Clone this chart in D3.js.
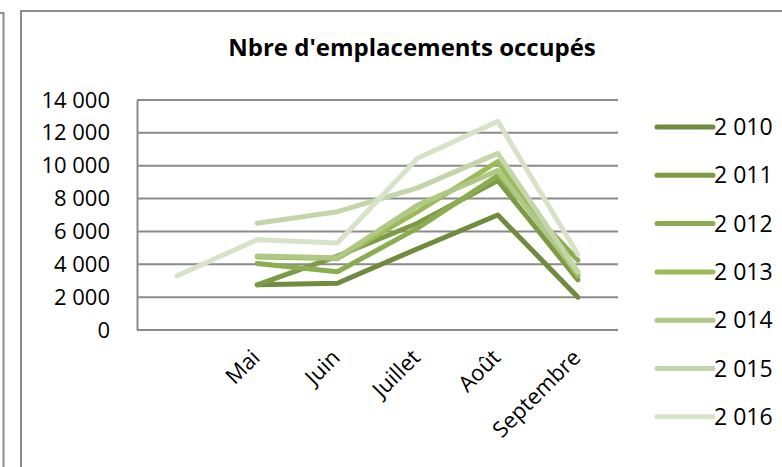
<!DOCTYPE html>
<html>
<head>
<meta charset="utf-8">
<script src="https://cdn.jsdelivr.net/npm/d3@7"></script>
<style>
  body { margin: 0; background: #fff; }
  svg { display: block; font-family: "Open Sans", sans-serif; }
</style>
</head>
<body>
<div id="chart"></div>
<script>
// categories (the first one has no label in the source)
const months = ["", "Mai", "Juin", "Juillet", "Août", "Septembre"];
const years = ["2 010", "2 011", "2 012", "2 013", "2 014", "2 015", "2 016"];
const yTicks = [0, 2000, 4000, 6000, 8000, 10000, 12000, 14000];

const v2010 = [null, 2750, 2850, 4950, 7000, 2000];
const v2011 = [null, 2750, 4500, 6500, 9100, 3050];
const v2012 = [null, 4050, 3550, 6200, 9400, 4250];
const v2013 = [null, 4450, 4350, 7200, 10250, 3300];
const v2014 = [null, 4500, 4400, 7600, 9700, 3450];
const v2015 = [null, 6500, 7200, 8650, 10750, 3550];
const v2016 = [3300, 5500, 5300, 10450, 12700, 4600];

const colors = ["#6f8b3d", "#7d9b45", "#8cad4f", "#9bbb59", "#afc885", "#c4d6a9", "#d7e3c6"];

const series = [v2010, v2011, v2012, v2013, v2014, v2015, v2016].map((vals, i) => ({
  name: years[i],
  color: colors[i],
  values: vals.map((v, j) => ({month: months[j], value: v}))
}));

const width = 782, height = 467;
const marginLeft = 137, marginRight = 164, marginTop = 100, marginBottom = 137;

const svg = d3.select("#chart").append("svg")
    .attr("width", width)
    .attr("height", height);

// chart frames (neighbour chart edge on the left + this chart's border)
svg.append("path")
    .attr("d", "M0,13H3.5V" + (height + 5))
    .attr("fill", "none")
    .attr("stroke", "#8c8c8c")
    .attr("stroke-width", 2);
svg.append("rect")
    .attr("x", 21).attr("y", 11)
    .attr("width", width + 20).attr("height", height + 20)
    .attr("fill", "none")
    .attr("stroke", "#8c8c8c")
    .attr("stroke-width", 2);

const x = d3.scaleBand()
    .domain(d3.range(months.length))
    .range([marginLeft, width - marginRight]);

const y = d3.scaleLinear()
    .domain([0, 14000])
    .range([height - marginBottom, marginTop]);

const fmt = v => d3.format(",")(v).replace(/,/g, " ");

// grid lines
svg.append("g")
  .selectAll("line")
  .data(yTicks)
  .join("line")
    .attr("x1", marginLeft)
    .attr("x2", width - marginRight)
    .attr("y1", d => y(d))
    .attr("y2", d => y(d))
    .attr("stroke", "#8a8a8a")
    .attr("stroke-width", 2);

// vertical axis
svg.append("g")
    .attr("transform", `translate(${marginLeft},0)`)
    .call(d3.axisLeft(y).tickValues(yTicks).tickFormat(fmt).tickSize(0).tickPadding(27))
    .call(g => g.select(".domain").attr("stroke", "#8a8a8a").attr("stroke-width", 2))
    .call(g => g.selectAll("text")
        .attr("font-family", "Open Sans, sans-serif")
        .attr("font-size", 22)
        .attr("fill", "#000"));

// horizontal axis labels, rotated
svg.append("g")
  .selectAll("text")
  .data(months)
  .join("text")
    .attr("transform", (d, i) => `translate(${x(i) + x.bandwidth() / 2 + 4},${height - marginBottom + 29}) rotate(-45)`)
    .attr("text-anchor", "end")
    .attr("font-size", 22)
    .attr("fill", "#000")
    .text(d => d);

// lines
const line = d3.line()
    .defined(d => d.value != null)
    .x(d => x(months.indexOf(d.month)) + x.bandwidth() / 2)
    .y(d => y(d.value));

svg.append("g")
    .attr("fill", "none")
  .selectAll("path")
  .data(series)
  .join("path")
    .attr("stroke", d => d.color)
    .attr("stroke-width", 5)
    .attr("stroke-linejoin", "round")
    .attr("stroke-linecap", "round")
    .attr("d", d => line(d.values));

// title
svg.append("text")
    .attr("x", 412)
    .attr("y", 56)
    .attr("text-anchor", "middle")
    .attr("font-size", 24)
    .attr("font-weight", "bold")
    .attr("fill", "#000")
    .text("Nbre d'emplacements occupés");

// legend
const legend = svg.append("g")
  .selectAll("g")
  .data(series)
  .join("g")
    .attr("transform", (d, i) => `translate(657,${127 + i * 48.3})`);

legend.append("line")
    .attr("x1", 0).attr("x2", 56)
    .attr("stroke", d => d.color)
    .attr("stroke-width", 5)
    .attr("stroke-linecap", "round");

legend.append("text")
    .attr("x", 57)
    .attr("dy", "0.35em")
    .attr("font-size", 23)
    .attr("fill", "#000")
    .text(d => d.name);
</script>
</body>
</html>
